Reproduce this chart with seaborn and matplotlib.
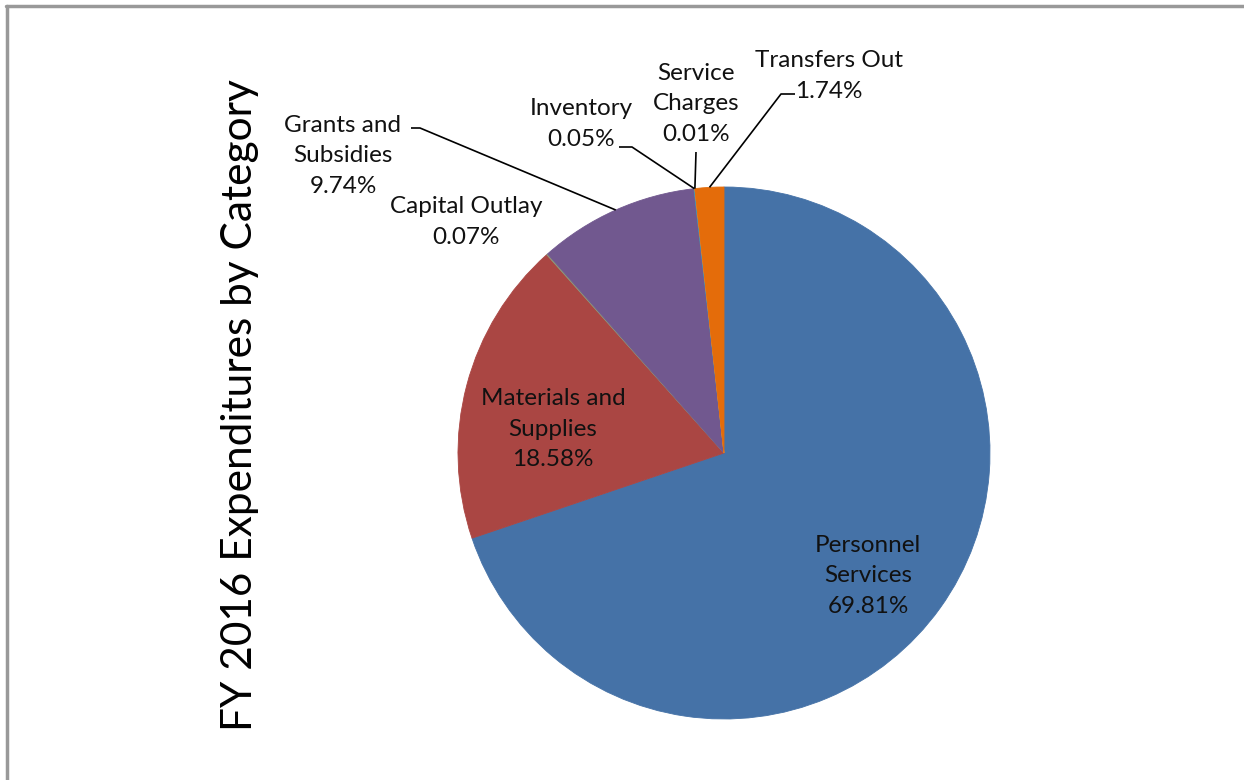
import matplotlib
matplotlib.use("Agg")
import numpy as np
import matplotlib.pyplot as plt
import seaborn as sns
from matplotlib.lines import Line2D

# Data (clockwise from 12 o'clock)
categories = ["Personnel\nServices", "Materials and\nSupplies", "Capital Outlay",
              "Grants and\nSubsidies", "Inventory", "Service\nCharges", "Transfers Out"]
shares = [69.81, 18.58, 0.07, 9.74, 0.05, 0.01, 1.74]
colors = ["#4572A7", "#AA4643", "#8C9A7A", "#71588F", "#4198AF", "#DB843D", "#E46C0A"]
title = "FY 2016 Expenditures by Category"

sns.set_theme(style="white")
plt.rcParams['font.family'] = ['Lato', 'DejaVu Sans']

W, H = 1244, 780
fig = plt.figure(figsize=(W / 100, H / 100), dpi=100)
ax = fig.add_axes([0, 0, 1, 1])

def Y(y):
    # pixel row (from top) -> data y
    return H - y

cx, cy, R = 724, 453, 266
wedges, _ = ax.pie(shares, colors=colors, startangle=90, counterclock=False,
                   center=(cx, Y(cy)), radius=R, frame=True)
for w, c in zip(wedges, colors):
    w.set_edgecolor(c)
    w.set_linewidth(0.6)
ax.set_xlim(0, W)
ax.set_ylim(0, H)
ax.set_axis_off()

# label block centres (pixels from top-left)
label_pos = [(868, 576), (553, 429), (466, 222), (343, 156),
             (581, 124), (696, 104), (829, 76)]
# leader lines: start point and elbow (None = no leader)
leaders = [None, None, None,
           [(411, 128), (420, 128)],
           [(619, 147), (632, 147)],
           [(696, 152)],
           [(795, 94), (781, 94)]]

for i, (name, val) in enumerate(zip(categories, shares)):
    x, y = label_pos[i]
    ax.text(x, Y(y), f"{name}\n{val:.2f}%", ha="center", va="center",
            fontsize=17.5, color="#111111", linespacing=1.55)
    if leaders[i] is not None:
        w = wedges[i]
        mid = np.deg2rad((w.theta1 + w.theta2) / 2)
        ex, ey = cx + R * np.cos(mid), Y(cy) + R * np.sin(mid)
        pts = [(px, Y(py)) for px, py in leaders[i]] + [(ex, ey)]
        xs, ys = zip(*pts)
        ax.plot(xs, ys, color="black", lw=1.2, solid_capstyle="butt")

ax.text(240, Y(405), title, rotation=90, ha="center", va="center",
        fontsize=30.5, color="black")

# gray frame on top and left edges
fig.add_artist(Line2D([6 / W, 1], [1 - 6 / H, 1 - 6 / H], color="#999999", lw=2.5))
fig.add_artist(Line2D([7 / W, 7 / W], [0, 1 - 6 / H], color="#999999", lw=2.5))

fig.savefig("out.png", dpi=100, facecolor="white")
